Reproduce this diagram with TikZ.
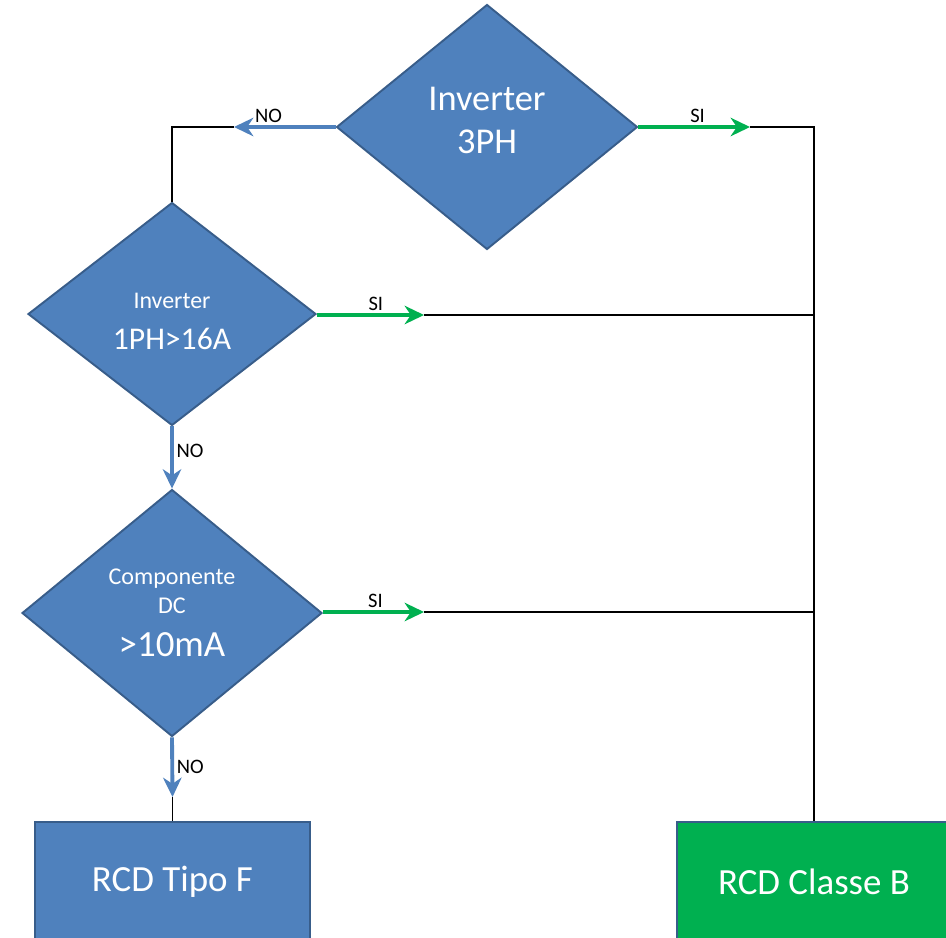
\documentclass[tikz,border=0pt]{standalone}
\usepackage{fontspec}
\setmainfont{Carlito}
\usetikzlibrary{shapes.geometric,arrows.meta}

\definecolor{boxblue}{HTML}{4F81BD}
\definecolor{boxedge}{HTML}{385D8A}
\definecolor{okgreen}{HTML}{00B050}

\tikzstyle{decision}=[shape=diamond,draw=boxedge,fill=boxblue,line width=1.1pt,inner sep=0pt,text=white,align=center]
\tikzstyle{result}=[shape=rectangle,draw=boxedge,line width=1.1pt,text=white,minimum width=5.5cm,minimum height=2.4cm,font=\fontsize{21}{25}\selectfont]
\tikzstyle{noedge}=[-{Stealth[length=11pt,width=10.5pt,inset=3.5pt]},draw=boxblue,line width=2.2pt]
\tikzstyle{siedge}=[-{Stealth[length=11pt,width=10.5pt,inset=3.5pt]},draw=okgreen,line width=2.2pt]
\tikzstyle{wire}=[draw=black,line width=0.9pt]
\tikzstyle{lbl}=[font=\fontsize{11.7}{14}\selectfont,inner sep=1.5pt]

\begin{document}
\begin{tikzpicture}[x=0.02cm,y=-0.02cm]
\clip (0,0) rectangle (946,937);
% decisions
\node[decision,minimum width=6.02cm,minimum height=4.9cm,text depth=8pt,font=\fontsize{20.7}{24.5}\selectfont] (inv3) at (487,127) {Inverter\\3PH};
\node[decision,minimum width=5.76cm,minimum height=4.46cm] (inv1) at (172,314)
    {\fontsize{13.6}{16}\selectfont\rule{0pt}{17pt}Inverter\\[10pt]\fontsize{18}{22}\selectfont 1PH>16A};
\node[decision,minimum width=6cm,minimum height=4.94cm] (dc) at (172,613)
    {\fontsize{13.7}{16.5}\selectfont Componente\\[4pt]\fontsize{13.7}{16.5}\selectfont DC\\[10pt]\fontsize{21}{24}\selectfont >10mA};
% results
\node[result,fill=boxblue] (tipoF) at (172.5,882) {RCD Tipo F};
\node[result,fill=okgreen] (classeB) at (814,882) {RCD Classe B};
% free ends of the arrows
\coordinate (noA) at (234,127);
\coordinate (siA) at (750,127);
\coordinate (siB) at (424,315);
\coordinate (jB) at (814,315);
\coordinate (siC) at (424,612);
\coordinate (jC) at (814,612);
\coordinate (noC) at (172.5,797);
% black wires
\draw[wire] (noA) -| (inv1.north);
\draw[wire] (siA) -| (classeB.north);
\draw[wire] (siB) -- (jB);
\draw[wire] (siC) -- (jC);
\draw[wire] (noC) -- (tipoF.north);
% answers
\draw[noedge] (inv3.west) -- node[lbl,above,pos=0.66] {NO} (noA);
\draw[siedge] (inv3.east) -- node[lbl,above,pos=0.53] {SI} (siA);
\draw[siedge] (inv1.east |- siB) -- node[lbl,above,pos=0.55] {SI} (siB);
\draw[noedge] (inv1.south) -- node[lbl,right,pos=0.4] {NO} (dc.north);
\draw[siedge] (dc.east |- siC) -- node[lbl,above,pos=0.52] {SI} (siC);
\draw[noedge] (dc.south) -- node[lbl,right,pos=0.5] {NO} (noC);
\end{tikzpicture}
\end{document}
